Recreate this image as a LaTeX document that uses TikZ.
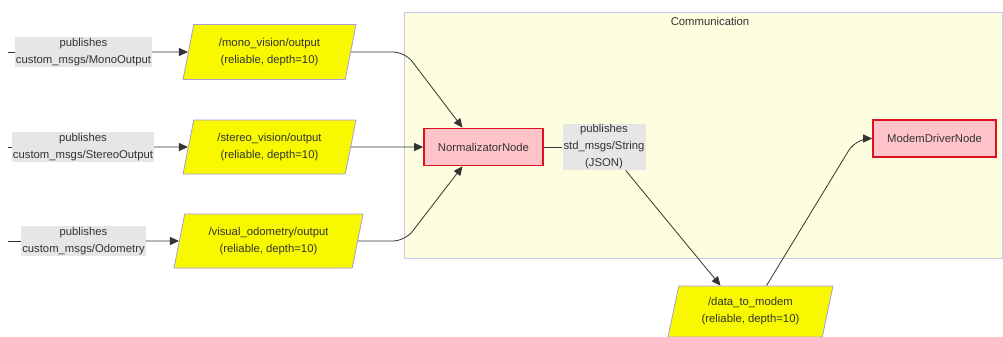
\documentclass[tikz,border=0pt]{standalone}
\usepackage{fontspec}
\setmainfont{Liberation Sans}
\usetikzlibrary{shapes.geometric,arrows.meta}
\definecolor{topicyellow}{HTML}{F8F800}
\definecolor{topicedge}{HTML}{A89CE0}
\definecolor{nodepink}{HTML}{FFC4CA}
\definecolor{nodered}{HTML}{E0101C}
\definecolor{infogray}{HTML}{E6E6E6}
\definecolor{clusterfill}{HTML}{FDFDE0}
\definecolor{clusteredge}{HTML}{CCC4EC}
\definecolor{textgray}{HTML}{333333}
\definecolor{linkgray}{HTML}{333333}
\begin{document}
\begin{tikzpicture}[x=1pt, y=-1pt,
		every node/.style = {font=\fontsize{11.3}{17}\selectfont, text=textgray, align=center},
		cluster/.style = {rectangle, fill=clusterfill, draw=clusteredge, line width=0.8pt},
		topic/.style = {trapezium, trapezium left angle=70, trapezium right angle=110, trapezium stretches body, fill=topicyellow, draw=topicedge, line width=0.8pt, inner sep=1pt},
		rosnode/.style = {rectangle, fill=nodepink, draw=nodered, line width=1.6pt, minimum height=37pt, inner sep=2pt},
		pubinfo/.style = {rectangle, fill=infogray, inner sep=1pt},
		link/.style = {draw=linkgray, line width=0.8pt},
		arr/.style = {link, -{Triangle[length=9pt,width=8pt]}}]
		
		\useasboundingbox (0,0) rectangle (1003,337);
		
		\node[cluster, minimum width=598pt, minimum height=246pt] (comm) at (703.5,135) {};
		\node (commtitle) at (710,21) {Communication};
		
		\coordinate (monosrc) at (8,52);
		\coordinate (stereosrc) at (8,147);
		\coordinate (odosrc) at (8,241);
		
		\node[pubinfo] (monolbl) at (83.5,52) {publishes\\custom\_msgs/MonoOutput};
		\node[pubinfo] (stereolbl) at (83,147) {publishes\\custom\_msgs/StereoOutput};
		\node[pubinfo] (odolbl) at (83.5,241) {publishes\\custom\_msgs/Odometry};
		
		\node[topic, minimum width=173pt, minimum height=55pt] (mono) at (269.5,52) {/mono\_vision/output\\(reliable, depth=10)};
		\node[topic, minimum width=173pt, minimum height=54pt] (stereo) at (269.5,147) {/stereo\_vision/output\\(reliable, depth=10)};
		\node[topic, minimum width=189pt, minimum height=54pt] (odo) at (268.5,241) {/visual\_odometry/output\\(reliable, depth=10)};
		\node[topic, minimum width=165pt, minimum height=51pt] (dtm) at (750.5,311.5) {/data\_to\_modem\\(reliable, depth=10)};
		
		\node[rosnode, minimum width=119pt] (norm) at (483.5,147) {NormalizatorNode};
		\node[pubinfo] (jsonlbl) at (604,147) {publishes\\std\_msgs/String\\(JSON)};
		\node[rosnode, minimum width=123pt] (modem) at (934.5,138.5) {ModemDriverNode};
		
		\draw[link] (monosrc) -- (monolbl);
		\draw[arr] (monolbl) -- (mono);
		\draw[link] (stereosrc) -- (stereolbl);
		\draw[arr] (stereolbl) -- (stereo);
		\draw[link] (odosrc) -- (odolbl);
		\draw[arr] (odolbl) -- (odo);
		
		\draw[arr, rounded corners=12pt] (mono.east) -- (405,52) -- ([xshift=-21pt]norm.north);
		\draw[arr] (stereo.east) -- (norm.west);
		\draw[arr, rounded corners=12pt] (odo.east) -- (405,241) -- ([xshift=-21pt]norm.south);
		\draw[link] (norm) -- (jsonlbl);
		\draw[arr] ([xshift=-20pt]jsonlbl.south east) -- ([xshift=-30pt]dtm.north);
		\draw[arr, rounded corners=14pt] ([xshift=16pt]dtm.north) -- (856,138.5) -- (modem.west);
\end{tikzpicture}
\end{document}
